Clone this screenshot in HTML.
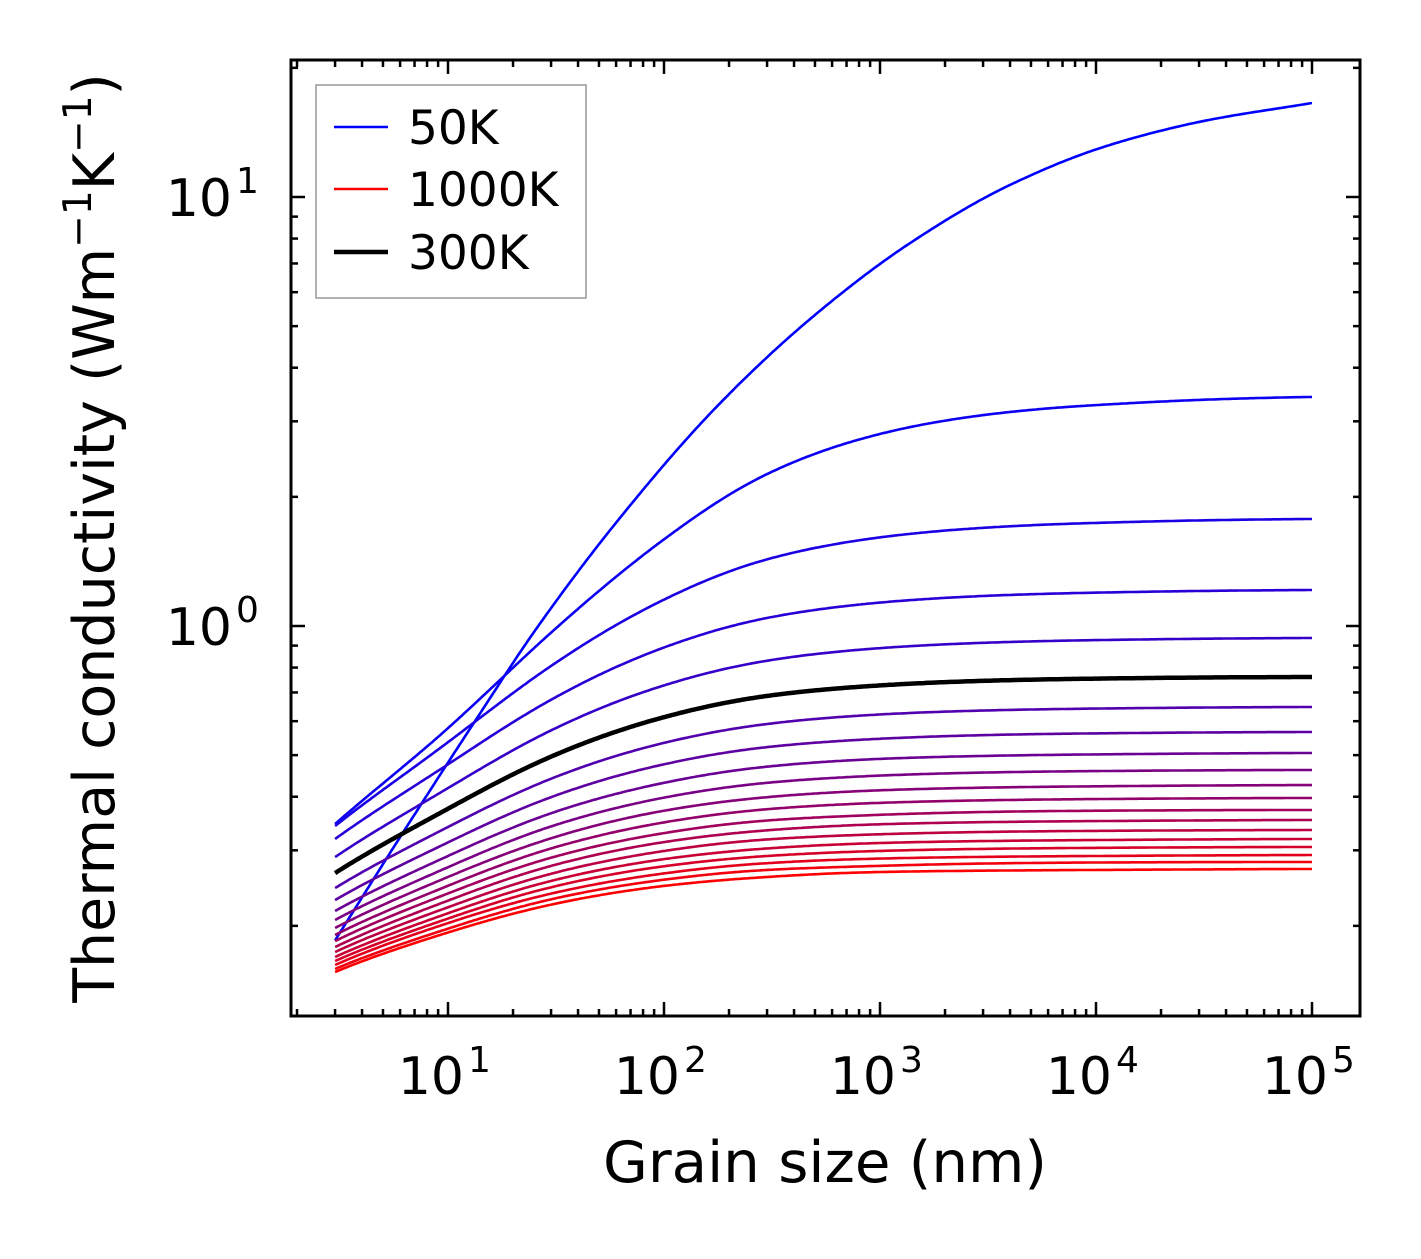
<!DOCTYPE html>
<html><head><meta charset="utf-8"><style>
html,body{margin:0;padding:0;background:#fff}
svg text{font-family:"DejaVu Sans","Liberation Sans",sans-serif;fill:#000}
</style></head><body>
<svg id="chart" width="1421" height="1254" viewBox="0 0 1421 1254" xmlns="http://www.w3.org/2000/svg">
<rect width="1421" height="1254" fill="#fff"/>
<g id="series"></g>
<g id="axes"></g>
<text x="825" y="1182" font-size="57" text-anchor="middle" textLength="444" lengthAdjust="spacingAndGlyphs">Grain size (nm)</text>
<text transform="translate(114,538) rotate(-90)" font-size="57" text-anchor="middle">Thermal conductivity (Wm<tspan font-size="39" dy="-23">−1</tspan><tspan dy="23">K</tspan><tspan font-size="39" dy="-23">−1</tspan><tspan dy="23">)</tspan></text>
<g>
<rect x="316" y="85" width="270" height="213" fill="#fff" stroke="#999" stroke-width="1.5"/>
<line x1="334" x2="388" y1="127" y2="127" stroke="rgb(0,0,255)" stroke-width="2.6"/>
<text x="408" y="144" font-size="47">50K</text>
<line x1="334" x2="388" y1="189" y2="189" stroke="rgb(255,0,0)" stroke-width="2.6"/>
<text x="408" y="206" font-size="47">1000K</text>
<line x1="334" x2="388" y1="252" y2="252" stroke="#000" stroke-width="4.5"/>
<text x="408" y="269" font-size="47">300K</text>
</g>
</svg>
<script>
const temps = [50,100,150,200,250,300,350,400,450,500,550,600,650,700,750,800,850,900,950,1000];
const grain = [3,10,30,100,300,1000,10000,100000];
const k100 = [0.3455,0.578,0.965,1.592,2.260,2.803,3.273,3.419];
const k150 = [0.3418,0.536,0.807,1.152,1.430,1.609,1.739,1.776];
const k200 = [0.3188,0.476,0.673,0.891,1.044,1.134,1.196,1.213];
const k250 = [0.2893,0.419,0.571,0.727,0.830,0.888,0.927,0.9376];
const k300 = [0.2655,0.375,0.496,0.613,0.687,0.727,0.754,0.7606];
const k350 = [0.2450,0.340,0.4405,0.534,0.591,0.622,0.642,0.6474];
const k400 = [0.2297,0.313,0.399,0.476,0.522,0.546,0.562,0.5661];
const k450 = [0.2166,0.291,0.366,0.431,0.470,0.490,0.502,0.5058];
const k500 = [0.2064,0.274,0.341,0.398,0.431,0.448,0.459,0.4617];
const k550 = [0.1977,0.260,0.320,0.371,0.399,0.414,0.423,0.4258];
const k600 = [0.1905,0.248,0.303,0.3485,0.374,0.387,0.395,0.3973];
const k650 = [0.1843,0.238,0.2883,0.329,0.352,0.363,0.371,0.3725];
const k700 = [0.1785,0.229,0.2759,0.3135,0.334,0.345,0.351,0.3530];
const k750 = [0.1738,0.221,0.2645,0.2989,0.318,0.327,0.333,0.3345];
const k800 = [0.1692,0.214,0.2545,0.2861,0.303,0.312,0.317,0.3188];
const k850 = [0.1656,0.208,0.246,0.2754,0.291,0.299,0.304,0.3054];
const k900 = [0.1621,0.203,0.2378,0.265,0.280,0.287,0.291,0.2925];
const k950 = [0.1587,0.197,0.2306,0.2562,0.270,0.276,0.281,0.2818];
const k1000 = [0.1561,0.193,0.2241,0.2478,0.260,0.267,0.270,0.2714];
const grain50 = [3,6,14,25,63,178,500,1400,4000,11200,31600,100000];
const k50 = [0.185,0.322,0.623,0.968,1.795,3.27,5.31,7.85,10.67,13.15,15.04,16.56];
const xTicks = [1,2,3,4,5];
const yTicks = [0,1];

const NS="http://www.w3.org/2000/svg";
const X0=291,X1=1360,Y0=60,Y1=1016;
const xDecPx=216, yDecPx=429;
function xs(v){return 448+(Math.log10(v)-1)*xDecPx;}
function ys(v){return 626-Math.log10(v)*yDecPx;}
function mk(tag,attrs,parent){const e=document.createElementNS(NS,tag);for(const k in attrs)e.setAttribute(k,attrs[k]);parent.appendChild(e);return e;}
function monotone(X,Z){
  const m=X.length,dl=[],sl=[];
  for(let i=0;i<m-1;i++) dl.push((Z[i+1]-Z[i])/(X[i+1]-X[i]));
  sl[0]=dl[0]; sl[m-1]=dl[m-2];
  for(let i=1;i<m-1;i++){ if(dl[i-1]*dl[i]<=0) sl[i]=0; else { const h0=X[i]-X[i-1],h1=X[i+1]-X[i]; const w1=2*h1+h0,w2=h1+2*h0; sl[i]=(w1+w2)/(w1/dl[i-1]+w2/dl[i]); } }
  return function(x){
    if(x>=X[m-1]) return Z[m-1]+sl[m-1]*(x-X[m-1]);
    let i=0; while(i<m-2 && x>X[i+1]) i++;
    const h=X[i+1]-X[i],t=(x-X[i])/h,t2=t*t,t3=t2*t;
    return (2*t3-3*t2+1)*Z[i]+(t3-2*t2+t)*h*sl[i]+(-2*t3+3*t2)*Z[i+1]+(t3-t2)*h*sl[i+1];
  };
}
function pathFor(gs,ks,direct){
  const n=gs.length, kEnd=ks[n-1];
  const xa=Math.log10(gs[0]), xb=Math.log10(gs[n-1]);
  let f;
  if(direct){
    const g=monotone(gs.map(v=>Math.log10(v)),ks.map(v=>Math.log10(v)));
    f=x=>Math.pow(10,g(x));
  } else {
    const X=[],Z=[];
    for(let i=0;i<n-1;i++){const r=1/ks[i]-1/kEnd; if(r>0){X.push(Math.log10(gs[i]));Z.push(Math.log10(r));}}
    const g=monotone(X,Z), xl=X[X.length-1];
    f=x=>{let r=Math.pow(10,g(x)); if(x>xl){const u=(x-xl)/(xb-xl); r*=(1-u*u);} return 1/(1/kEnd+r);};
  }
  let d="";
  for(let s=0;s<=400;s++){
    const x=xa+(xb-xa)*s/400;
    d+=(d?" L":"M")+xs(Math.pow(10,x)).toFixed(1)+","+ys(f(x)).toFixed(1);
  }
  return d;
}
function colorFor(T){const t=(T-50)/950;return "rgb("+Math.round(255*t)+",0,"+Math.round(255*(1-t))+")";}
const sg=document.getElementById("series");
const allK=[k50,k100,k150,k200,k250,k300,k350,k400,k450,k500,k550,k600,k650,k700,k750,k800,k850,k900,k950,k1000];
let blackPath=null;
temps.forEach((T,i)=>{
  const gs = T===50?grain50:grain;
  const isBlack = T===300;
  const el=mk("path",{d:pathFor(gs,allK[i],T===50),fill:"none",stroke:isBlack?"#000":colorFor(T),"stroke-width":isBlack?4.5:2.6,"stroke-linejoin":"round"},sg);
  
  
  if(isBlack) blackPath=el;
});
sg.appendChild(blackPath);

const ax=document.getElementById("axes");
for(let dec=0;dec<=5;dec++){for(let m=1;m<=9;m++){const v=m*Math.pow(10,dec);const x=xs(v);if(x<X0+1||x>X1-1)continue;const L=m===1?14:7;
  const t1=mk("line",{x1:x,x2:x,y1:Y1,y2:Y1-L,stroke:"#000","stroke-width":2.5},ax);
  
  
  const t2=mk("line",{x1:x,x2:x,y1:Y0,y2:Y0+L,stroke:"#000","stroke-width":2.5},ax);
  
  }}
for(let dec=-1;dec<=1;dec++){for(let m=1;m<=9;m++){const v=m*Math.pow(10,dec);const y=ys(v);if(y<Y0+1||y>Y1-1)continue;const L=m===1?14:7;
  const t1=mk("line",{x1:X0,x2:X0+L,y1:y,y2:y,stroke:"#000","stroke-width":2.5},ax);
  
  
  const t2=mk("line",{x1:X1,x2:X1-L,y1:y,y2:y,stroke:"#000","stroke-width":2.5},ax);
  
  }}
const fr=mk("rect",{x:X0,y:Y0,width:X1-X0,height:Y1-Y0,fill:"none",stroke:"#000","stroke-width":3},ax);


xTicks.forEach(e=>{const x=xs(Math.pow(10,e));
  const t=mk("text",{x:x+16,y:1094,"font-size":52,"text-anchor":"end"},ax);
  
  
  t.textContent="10";
  const s=mk("text",{x:x+20,y:1072,"font-size":36},ax);
  
  
  s.textContent=e;});
yTicks.forEach(e=>{const y=ys(Math.pow(10,e));
  const t=mk("text",{x:232,y:y+19,"font-size":52,"text-anchor":"end"},ax);
  
  
  t.textContent="10";
  const s=mk("text",{x:236,y:y-4,"font-size":36},ax);
  
  
  s.textContent=e;});
</script>
</body></html>
